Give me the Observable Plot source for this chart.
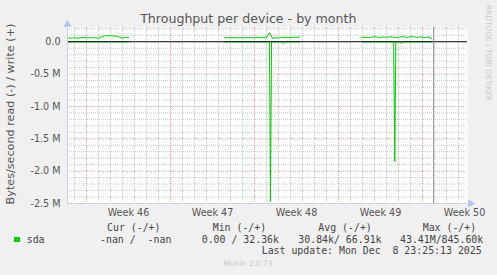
<!DOCTYPE html>
<html><head><meta charset="utf-8">
<script src="https://cdn.jsdelivr.net/npm/d3@7"></script>
<script src="https://cdn.jsdelivr.net/npm/@observablehq/plot@0.6"></script>
<style>
html,body{margin:0;padding:0;background:#f0f0f0;}
#wrap{position:relative;width:497px;height:275px;background:#f0f0f0;overflow:hidden;font-family:"DejaVu Sans";}
#wrap svg{position:absolute;left:0;top:0;}
.t{position:absolute;white-space:nowrap;}
.mono{position:absolute;font-family:"DejaVu Sans Mono";font-size:9.9px;line-height:9.9px;color:#444;white-space:pre;}
</style></head><body><div id="wrap"></div>
<script>
// ---- data ----
const weekLabels = ["Week 46", "Week 47", "Week 48", "Week 49", "Week 50"];
const weekLabelDays = [3.5, 10.5, 17.5, 24.5, 31.5];
const weekStartDays = [0, 7, 14, 21, 28];
const nowDay = 28.92;
const xDomain = [-1.58, 31.75];
const yDomain = [-2.5e6, 0.22e6];
const yTicks = [0, -0.5e6, -1.0e6, -1.5e6, -2.0e6, -2.5e6];

const sampleStep = 0.25; // days between samples
const write1Start = -1.5;
const write1 = [60e3, 55e3, 62e3, 55e3, 60e3, 68e3, 62e3, 62e3, 62e3, 62e3, 52e3, 75e3, 90e3, 93e3, 93e3, 90e3, 85e3, 70e3, 55e3, 68e3, 65e3];
const write2Start = 11.5;
const write2 = [62e3, 62e3, 62e3, 66e3, 62e3, 62e3, 62e3, 62e3, 62e3, 62e3, 62e3, 66e3, 62e3, 68e3, 65e3, 140e3, 50e3, 62e3, 58e3, 66e3, 62e3, 68e3, 62e3, 70e3, 66e3, 75e3];
const write3Start = 23.0;
const write3 = [65e3, 65e3, 65e3, 68e3, 78e3, 70e3, 65e3, 76e3, 66e3, 76e3, 74e3, 64e3, 66e3, 78e3, 77e3, 65e3, 78e3, 77e3, 65e3, 75e3, 66e3, 66e3, 76e3, 45e3];

const read1Days = [-1.5, 3.5];
const read1 = [-2e3, -2e3];
const read2Days = [11.5, 15.25, 15.33, 15.42, 16.25, 16.42, 16.58, 17.75];
const read2 = [-2e3, -2e3, -2.47e6, -2e3, -2e3, -30e3, -2e3, -2e3];
const read3Days = [23.0, 25.6, 25.69, 25.78, 26.1, 26.23, 26.36, 28.75];
const read3 = [-2e3, -2e3, -1.85e6, -2e3, -2e3, -30e3, -2e3, -2e3];

// ---- build rows ----
const writeRows = [];
[[write1Start, write1], [write2Start, write2], [write3Start, write3]].forEach(([s, vals], k) => {
  vals.forEach((v, i) => writeRows.push({day: s + i * sampleStep, v, seg: k}));
});
const readRows = [];
[[read1Days, read1], [read2Days, read2], [read3Days, read3]].forEach(([ds, vals], k) => {
  vals.forEach((v, i) => readRows.push({day: ds[i], v, seg: k}));
});

const minorDays = d3.range(-1, 32).filter(d => !weekStartDays.includes(d));
const minorY = d3.range(-24, 3).filter(i => i % 5 !== 0).map(i => i * 1e5);
const majorY = [-0.5e6, -1.0e6, -1.5e6, -2.0e6];

const green = "#00cc00";
const axisColor = "#c8d0ec";
const arrowColor = "#b4c4f4";

const chart = Plot.plot({
  width: 497, height: 275,
  marginLeft: 67, marginRight: 30, marginTop: 27, marginBottom: 72,
  x: {domain: xDomain, label: null},
  y: {domain: yDomain, label: null},
  style: {background: "transparent", fontFamily: "DejaVu Sans", color: "#555", overflow: "visible"},
  marks: [
    Plot.frame({fill: "white", stroke: null}),
    Plot.ruleX(minorDays, {stroke: "#c8c8c8", strokeDasharray: "1,1"}),
    Plot.ruleY(minorY, {stroke: "#c8c8c8", strokeDasharray: "1,1"}),
    Plot.ruleX(weekStartDays, {stroke: "#e4a4a4", strokeDasharray: "1,1"}),
    Plot.ruleY(majorY, {stroke: "#e4a4a4", strokeDasharray: "1,1"}),
    Plot.line(writeRows, {x: "day", y: "v", z: "seg", stroke: green, strokeWidth: 1}),
    Plot.line(readRows, {x: "day", y: "v", z: "seg", stroke: green, strokeWidth: 1}),
    Plot.ruleY([0], {stroke: "black", strokeWidth: 1}),
    Plot.ruleX([nowDay], {stroke: "#999", strokeWidth: 1}),
    Plot.ruleX([xDomain[0]], {stroke: axisColor}),
    Plot.ruleY([yDomain[0]], {stroke: axisColor}),
    Plot.dot([0], {frameAnchor: "top-left", symbol: "triangle", r: 3, fill: arrowColor, stroke: null, dy: -3}),
    Plot.dot([0], {frameAnchor: "bottom-right", symbol: "triangle", rotate: 90, r: 3, fill: arrowColor, stroke: null, dx: 3}),
    Plot.axisY({ticks: yTicks, tickFormat: d => d === 0 ? "0.0" : (d / 1e6).toFixed(1) + " M", tickSize: 0, tickPadding: 7, fontSize: 9.6, label: null}),
    Plot.axisX({ticks: weekLabelDays, tickFormat: d => weekLabels[weekLabelDays.indexOf(d)], tickSize: 0, tickPadding: 6, fontSize: 9.6, label: null})
  ]
});

const wrap = document.getElementById("wrap");
wrap.appendChild(chart);

function addDiv(html, css, cls) {
  const d = document.createElement("div");
  d.className = cls || "t";
  d.textContent = html;
  Object.assign(d.style, css);
  wrap.appendChild(d);
  return d;
}

// title
addDiv("Throughput per device - by month", {left: "248.3px", top: "12.6px", transform: "translateX(-50%)", fontSize: "12.6px", lineHeight: "12.6px", color: "#555"});
// y label
addDiv("Bytes/second read (-) / write (+)", {left: "11.1px", top: "114px", transform: "translate(-50%,-50%) rotate(-90deg)", fontSize: "11.2px", lineHeight: "11.2px", color: "#555"});
// watermark
addDiv("RRDTOOL / TOBI OETIKER", {left: "487.8px", top: "53.3px", transform: "translate(-50%,-50%) rotate(90deg)", fontSize: "7.5px", lineHeight: "7.5px", color: "#c8c8c8"});
// munin
addDiv("Munin 2.0.73", {left: "248px", top: "260.3px", transform: "translateX(-50%)", fontSize: "7.5px", lineHeight: "7.5px", color: "#c8c8c8"});

// legend
const legendHeaders = ["Cur (-/+)", "Min (-/+)", "Avg (-/+)", "Max (-/+)"];
const headerLefts = [107, 212.7, 318.3, 422.7];
const seriesName = "sda";
const seriesStats = ["-nan /  -nan", "0.00 / 32.36k", "30.84k/ 66.91k", "43.41M/845.60k"];
const statLefts = [100, 201.7, 298.3, 400];
const lastUpdate = "Last update: Mon Dec  8 23:25:13 2025";

legendHeaders.forEach((h, i) => addDiv(h, {left: headerLefts[i] + "px", top: "223.3px"}, "mono"));
addDiv(seriesName, {left: "26.7px", top: "234.6px"}, "mono");
seriesStats.forEach((s, i) => addDiv(s, {left: statLefts[i] + "px", top: "234.6px"}, "mono"));
addDiv(lastUpdate, {left: "261.7px", top: "245.6px"}, "mono");
const sq = document.createElement("div");
Object.assign(sq.style, {position: "absolute", left: "14px", top: "236.8px", width: "5.6px", height: "5.6px", background: green});
wrap.appendChild(sq);
</script></body></html>
